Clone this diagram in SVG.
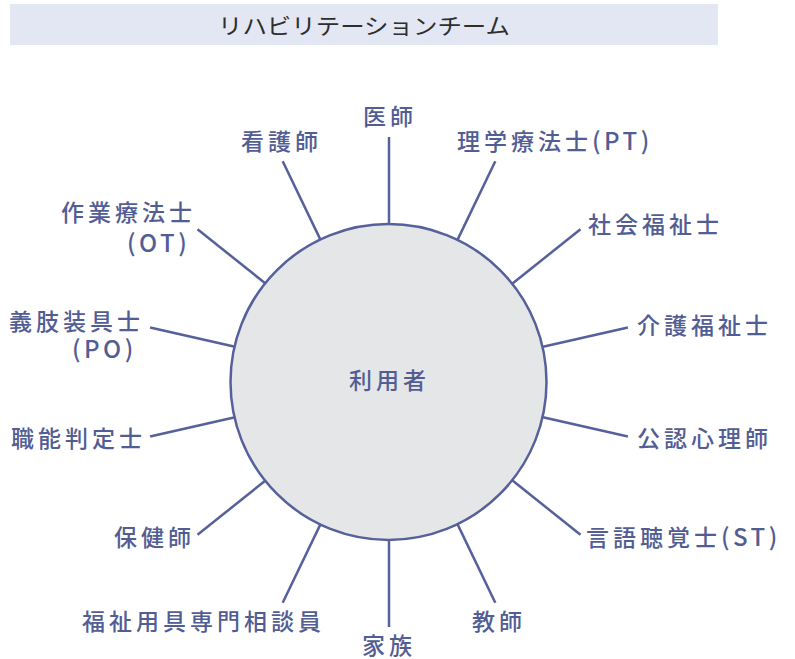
<svg xmlns="http://www.w3.org/2000/svg" width="795" height="659" viewBox="0 0 795 659">
<style>
.lbl{font-family:"Noto Sans CJK JP","Noto Sans",sans-serif;font-size:23px;font-weight:500;letter-spacing:4px;fill:#525d94}
.lat{letter-spacing:3.5px;font-size:24px}
.con line{stroke:#56609a;stroke-width:2.5;stroke-linecap:butt}
.hdr{font-family:"Noto Sans CJK JP","Noto Sans",sans-serif;font-size:22px;fill:#2e2e2e}
</style>
<rect x="10" y="4" width="708" height="41" fill="#e3e7f3"/>
<text class="hdr" x="218" y="34" textLength="292" lengthAdjust="spacingAndGlyphs">リハビリテーションチーム</text>
<g id="connectors" class="con">
<line x1="389" y1="224" x2="389" y2="137"/>
<line x1="457.6" y1="239.6" x2="495.3" y2="161.3"/>
<line x1="512.5" y1="283.5" x2="580.5" y2="229.2"/>
<line x1="543.0" y1="346.8" x2="627.9" y2="327.5"/>
<line x1="543.0" y1="417.2" x2="627.9" y2="436.5"/>
<line x1="512.5" y1="480.5" x2="580.5" y2="534.8"/>
<line x1="457.6" y1="524.4" x2="495.3" y2="602.7"/>
<line x1="389" y1="540" x2="389" y2="627"/>
<line x1="320.4" y1="524.4" x2="282.7" y2="602.7"/>
<line x1="265.5" y1="480.5" x2="197.5" y2="534.8"/>
<line x1="235.0" y1="417.2" x2="150.1" y2="436.5"/>
<line x1="235.0" y1="346.8" x2="150.1" y2="327.5"/>
<line x1="265.5" y1="283.5" x2="197.5" y2="229.2"/>
<line x1="320.4" y1="239.6" x2="282.7" y2="161.3"/>
</g>
<g id="user">
<circle cx="388.5" cy="382" r="158" fill="#e5e6e8" stroke="#56609a" stroke-width="2.5"/>
<text class="lbl" x="349" y="389">利用者</text>
</g>
<g id="doctor"><text class="lbl" x="363" y="125">医師</text></g>
<g id="pt"><text class="lbl" x="457" y="150">理学療法士<tspan class="lat">(PT)</tspan></text></g>
<g id="socialworker"><text class="lbl" x="588" y="233">社会福祉士</text></g>
<g id="careworker"><text class="lbl" x="637" y="334">介護福祉士</text></g>
<g id="psychologist"><text class="lbl" x="637" y="447">公認心理師</text></g>
<g id="st"><text class="lbl" x="586" y="546">言語聴覚士<tspan class="lat">(ST)</tspan></text></g>
<g id="teacher"><text class="lbl" x="472" y="630">教師</text></g>
<g id="family"><text class="lbl" x="362" y="654">家族</text></g>
<g id="welfareequip"><text class="lbl" x="82" y="630">福祉用具専門相談員</text></g>
<g id="publichealthnurse"><text class="lbl" x="114" y="546">保健師</text></g>
<g id="vocational"><text class="lbl" x="11" y="447">職能判定士</text></g>
<g id="po"><text class="lbl" x="9" y="330">義肢装具士</text><text class="lbl lat" x="72" y="358">(PO)</text></g>
<g id="ot"><text class="lbl" x="61" y="221">作業療法士</text><text class="lbl lat" x="127" y="252">(OT)</text></g>
<g id="nurse"><text class="lbl" x="241" y="150">看護師</text></g>
</svg>
